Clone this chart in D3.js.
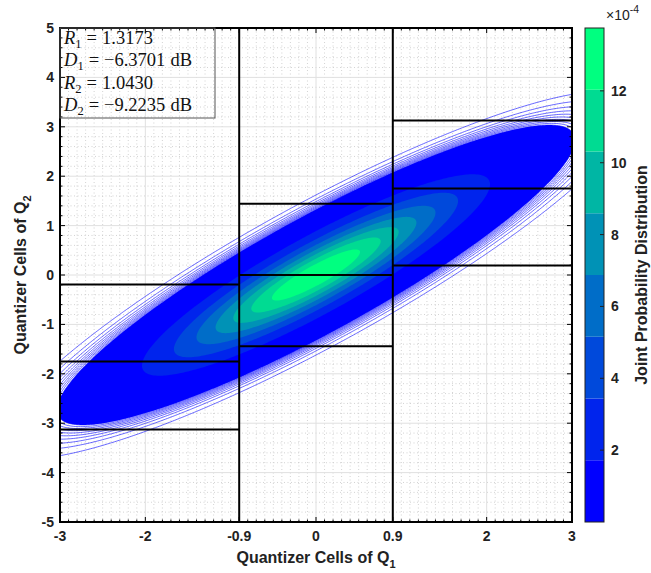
<!DOCTYPE html>
<html><head><meta charset="utf-8">
<script src="https://cdn.jsdelivr.net/npm/d3@7"></script>
<style>
body{margin:0;background:#fff;}
</style></head><body>
<svg id="chart" width="651" height="573"></svg>
<script>
// ---- axis ticks and quantizer cells ----
const q1Ticks = [-3, -2, -0.9, 0, 0.9, 2, 3];
const q1TickLabels = ["-3", "-2", "-0.9", "0", "0.9", "2", "3"];
const q2Ticks = [-5, -4, -3, -2, -1, 0, 1, 2, 3, 4, 5];
const q1Cells = [-3, -0.9, 0.9, 3];
const q2Thresholds = [
  [-3.13, -1.75, -0.19],
  [-1.44, 0.0, 1.44],
  [0.19, 1.75, 3.13]
];
// ---- joint source model (zero-mean Gaussian pair) ----
const sourceStd = [1.0, 1.0];
const sourceCorr = [0.9];
const peakProb = [13.75e-4];
const contourLevelCount = [1000];
// ---- colour bar ----
const colorTicks = [2, 4, 6, 8, 10, 12];
const bandColors = ["#0000ff", "#0024ed", "#0049db", "#006dc8", "#0092b6", "#00b6a4", "#00db92", "#00ff80"];
// ---- rate / distortion annotations ----
const statSymbols = ["R", "D", "R", "D"];
const statIndices = ["1", "1", "2", "2"];
const statValues = ["1.3173", "\u22126.3701", "1.0430", "\u22129.2235"];
const statUnits = ["", "dB", "", "dB"];

const SANS = "'Liberation Sans', Arial, Helvetica, sans-serif";
const SERIF = "'Liberation Serif', 'DejaVu Serif', serif";

const svg = d3.select("#chart").style("font-family", SANS);
const L = 60, R = 572, T = 28, B = 522;
const x = d3.scaleLinear([-3, 3], [L, R]);
const y = d3.scaleLinear([-5, 5], [B, T]);

const defs = svg.append("defs");
defs.append("clipPath").attr("id", "plotClip")
  .append("rect").attr("x", L).attr("y", T).attr("width", R - L).attr("height", B - T);

// ---- grid ----
const grid = svg.append("g");
const xMinor = d3.range(-30, 31).map(d => d / 10).filter(v => !q1Ticks.some(t => Math.abs(t - v) < 1e-6));
const yMinor = d3.range(-25, 26).map(d => d / 5).filter(v => Math.abs(v - Math.round(v)) > 1e-6);
grid.selectAll(".xm").data(xMinor).join("line")
  .attr("x1", d => x(d)).attr("x2", d => x(d)).attr("y1", T).attr("y2", B)
  .attr("stroke", "#c8c8c8").attr("stroke-width", 0.8).attr("stroke-dasharray", "1,2.5");
grid.selectAll(".ym").data(yMinor).join("line")
  .attr("y1", d => y(d)).attr("y2", d => y(d)).attr("x1", L).attr("x2", R)
  .attr("stroke", "#c8c8c8").attr("stroke-width", 0.8).attr("stroke-dasharray", "1,2.5");
grid.selectAll(".xM").data(q1Ticks).join("line")
  .attr("x1", d => x(d)).attr("x2", d => x(d)).attr("y1", T).attr("y2", B)
  .attr("stroke", "#e0e0e0").attr("stroke-width", 1);
grid.selectAll(".yM").data(q2Ticks).join("line")
  .attr("y1", d => y(d)).attr("y2", d => y(d)).attr("x1", L).attr("x2", R)
  .attr("stroke", "#e0e0e0").attr("stroke-width", 1);

// ---- joint probability surface on a grid ----
const step = 0.02, gx0 = -3.1, gy0 = -5.02;
const nx = Math.round(6.2 / step) + 1, ny = Math.round(10.04 / step) + 1;
const rho = sourceCorr[0], sx = sourceStd[0], sy = sourceStd[1];
const peak = peakProb[0];
const values = new Float64Array(nx * ny);
for (let j = 0; j < ny; j++) {
  const v = (gy0 + j * step) / sy;
  for (let i = 0; i < nx; i++) {
    const u = (gx0 + i * step) / sx;
    const q = (u * u - 2 * rho * u * v + v * v) / (1 - rho * rho);
    values[j * nx + i] = peak * Math.exp(-0.5 * q);
  }
}
const proj = d3.geoTransform({
  point(px, py) {
    this.stream.point(x(gx0 + (px - 0.5) * step), y(gy0 + (py - 0.5) * step));
  }
});
const path = d3.geoPath(proj);
const contourGen = d3.contours().size([nx, ny]);

const plot = svg.append("g").attr("clip-path", "url(#plotClip)");

// solid colour bands
const nLevels = contourLevelCount[0];
const bandEdges = d3.range(1, 8).map(k => k * peak / 8);
const solidStart = 10 * peak / nLevels;
const fillLevels = [solidStart].concat(bandEdges);
plot.append("g").selectAll("path")
  .data(contourGen.thresholds(fillLevels)(values))
  .join("path")
  .attr("d", path)
  .attr("fill", (d, i) => bandColors[i]);

// thin iso-lines in the low-probability tails
const lineLevels = d3.range(1, 12).map(k => k * peak / nLevels);
plot.append("g").selectAll("path")
  .data(contourGen.thresholds(lineLevels)(values))
  .join("path")
  .attr("d", path)
  .attr("fill", "none")
  .attr("stroke", "#0000ff")
  .attr("stroke-width", 0.6);

// ---- quantizer cells ----
const qc = svg.append("g").attr("stroke", "#000").attr("stroke-width", 2);
q1Cells.slice(1, -1).forEach(c => {
  qc.append("line").attr("x1", x(c)).attr("x2", x(c)).attr("y1", T).attr("y2", B);
});
q2Thresholds.forEach((ths, ci) => {
  ths.forEach(t => {
    qc.append("line")
      .attr("x1", x(q1Cells[ci])).attr("x2", x(q1Cells[ci + 1]))
      .attr("y1", y(t)).attr("y2", y(t));
  });
});

// ---- axes box and ticks ----
const ax = svg.append("g");
ax.append("rect").attr("x", L).attr("y", T).attr("width", R - L).attr("height", B - T)
  .attr("fill", "none").attr("stroke", "#000").attr("stroke-width", 2);
const tk = ax.append("g").attr("stroke", "#000").attr("stroke-width", 1);
q1Ticks.forEach(t => {
  tk.append("line").attr("x1", x(t)).attr("x2", x(t)).attr("y1", B).attr("y2", B - 5);
  tk.append("line").attr("x1", x(t)).attr("x2", x(t)).attr("y1", T).attr("y2", T + 5);
});
q2Ticks.forEach(t => {
  tk.append("line").attr("y1", y(t)).attr("y2", y(t)).attr("x1", L).attr("x2", L + 5);
  tk.append("line").attr("y1", y(t)).attr("y2", y(t)).attr("x1", R).attr("x2", R - 5);
});
xMinor.forEach(t => {
  tk.append("line").attr("x1", x(t)).attr("x2", x(t)).attr("y1", B).attr("y2", B - 2.5);
  tk.append("line").attr("x1", x(t)).attr("x2", x(t)).attr("y1", T).attr("y2", T + 2.5);
});
yMinor.forEach(t => {
  tk.append("line").attr("y1", y(t)).attr("y2", y(t)).attr("x1", L).attr("x2", L + 2.5);
  tk.append("line").attr("y1", y(t)).attr("y2", y(t)).attr("x1", R).attr("x2", R - 2.5);
});

ax.selectAll(".xl").data(q1Ticks).join("text")
  .attr("x", d => x(d)).attr("y", 541).attr("text-anchor", "middle")
  .attr("font-size", 14).attr("font-weight", "bold").attr("fill", "#222")
  .text((d, i) => q1TickLabels[i]);
ax.selectAll(".yl").data(q2Ticks).join("text")
  .attr("x", L - 6).attr("y", d => y(d) + 5).attr("text-anchor", "end")
  .attr("font-size", 14).attr("font-weight", "bold").attr("fill", "#222")
  .text(d => d);

// axis titles
const xt = svg.append("text").attr("x", (L + R) / 2).attr("y", 563).attr("text-anchor", "middle")
  .attr("font-size", 16).attr("font-weight", "bold").attr("fill", "#222");
xt.append("tspan").text("Quantizer Cells of Q");
xt.append("tspan").attr("font-size", 11).attr("dy", 5).text("1");
const yt = svg.append("text").attr("transform", `translate(26,${(T + B) / 2}) rotate(-90)`)
  .attr("text-anchor", "middle").attr("font-size", 16).attr("font-weight", "bold").attr("fill", "#222");
yt.append("tspan").text("Quantizer Cells of Q");
yt.append("tspan").attr("font-size", 11).attr("dy", 5).text("2");

// ---- rate / distortion box ----
const box = svg.append("g");
box.append("rect").attr("x", L).attr("y", T).attr("width", 155).attr("height", 90)
  .attr("fill", "none").attr("stroke", "#555").attr("stroke-width", 1);
statSymbols.forEach((s, i) => {
  const t = box.append("text").attr("x", 64).attr("y", 44 + i * 22.3)
    .style("font-family", SERIF).attr("font-size", 18.5).attr("fill", "#111");
  t.append("tspan").attr("font-style", "italic").text(s);
  t.append("tspan").attr("font-size", 12.5).attr("dy", 4).text(statIndices[i]);
  t.append("tspan").attr("dy", -4).attr("dx", 5).text("=");
  t.append("tspan").attr("dx", 5).text(statValues[i]);
  if (statUnits[i]) t.append("tspan").attr("dx", 5).text(statUnits[i]);
});

// ---- colour bar ----
const cbL = 585, cbW = 19;
const c = d3.scaleLinear([0, peak], [B, T]);
const cb = svg.append("g");
cb.selectAll("rect").data(bandColors).join("rect")
  .attr("x", cbL).attr("width", cbW)
  .attr("y", (d, i) => c((i + 1) * peak / 8)).attr("height", (d, i) => c(i * peak / 8) - c((i + 1) * peak / 8))
  .attr("fill", d => d);
cb.append("rect").attr("x", cbL).attr("y", T).attr("width", cbW).attr("height", B - T)
  .attr("fill", "none").attr("stroke", "#222").attr("stroke-width", 1);
colorTicks.forEach(t => {
  cb.append("line").attr("x1", cbL + cbW).attr("x2", cbL + cbW - 4)
    .attr("y1", c(t * 1e-4)).attr("y2", c(t * 1e-4)).attr("stroke", "#222");
  cb.append("text").attr("x", 611).attr("y", c(t * 1e-4) + 5)
    .attr("font-size", 14).attr("font-weight", "bold").attr("fill", "#222").text(t);
});
const ex = cb.append("text").attr("x", 606).attr("y", 20).attr("font-size", 14).attr("fill", "#222");
ex.append("tspan").text("\u00d710");
ex.append("tspan").attr("font-size", 10.5).attr("dy", -7).text("-4");
svg.append("text").attr("transform", `translate(647,${(T + B) / 2}) rotate(-90)`)
  .attr("text-anchor", "middle").attr("font-size", 16).attr("font-weight", "bold").attr("fill", "#222")
  .text("Joint Probability Distribution");
</script>
</body></html>
